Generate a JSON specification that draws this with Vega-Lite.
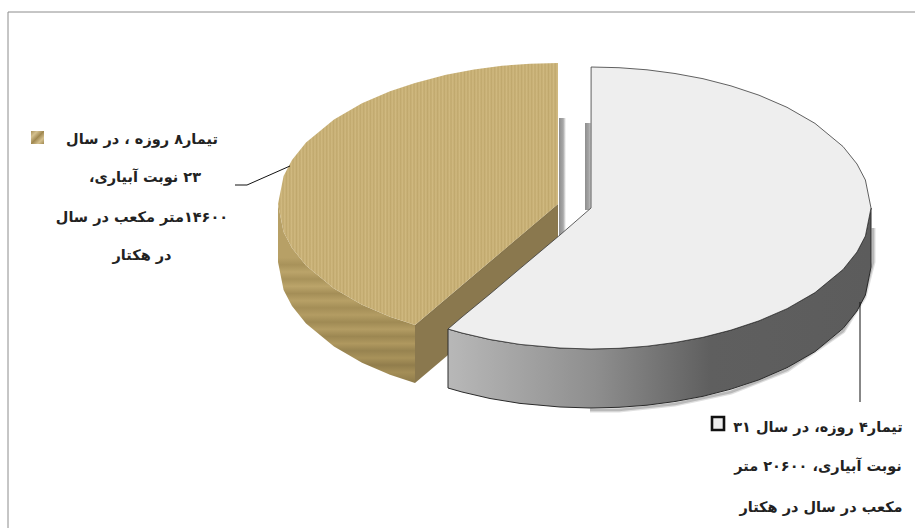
{
"$schema":"https://vega.github.io/schema/vega-lite/v6.json",
"width":915,"height":528,"padding":0,
"autosize":{"type":"fit","contains":"padding"},
"background":"white",
"config":{"view":{"stroke":null}},
"datasets":{
"frame":[{"x":8,"y":528},{"x":8,"y":12},{"x":915,"y":12}],
"shadows":[{"x":559,"x2":566,"y":118,"y2":266},{"x":585,"x2":592,"y":123,"y2":210}],
"brownWall":[{"x":278,"y":204,"y2":262},{"x":283.6,"y":232,"y2":290},{"x":292,"y":248,"y2":306},{"x":306,"y":265.5,"y2":323.5},{"x":334,"y":288.6,"y2":346.6},{"x":362,"y":304.7,"y2":362.7},{"x":390,"y":316.8,"y2":374.8},{"x":415,"y":325,"y2":383}],
"cutWall":[{"x":415,"y":325,"y2":383},{"x":558,"y":204,"y2":262}],
"brownTop":[{"x":278,"y":204,"y2":204},{"x":283.6,"y":176,"y2":232},{"x":292,"y":160,"y2":248},{"x":306,"y":142.5,"y2":265.5},{"x":334,"y":119.4,"y2":288.6},{"x":362,"y":103.3,"y2":304.7},{"x":390,"y":91.2,"y2":316.8},{"x":415,"y":83,"y2":325},{"x":446,"y":74.7,"y2":298.8},{"x":474,"y":69.5,"y2":275},{"x":502,"y":65.8,"y2":251.4},{"x":530,"y":63.7,"y2":227.7},{"x":558,"y":63,"y2":204}],
"wallShadow":[{"x":590,"y":410},{"x":619,"y":410},{"x":675,"y":404},{"x":731,"y":392},{"x":787,"y":370},{"x":843,"y":331},{"x":864,"y":297},{"x":873,"y":262},{"x":873,"y":228}],
"lightWall":[{"x":448,"y":329,"y2":388},{"x":462,"y":333,"y2":392},{"x":490,"y":339.5,"y2":398.5},{"x":520,"y":344.4,"y2":403.4},{"x":560,"y":348,"y2":407},{"x":591,"y":349,"y2":408},{"x":619,"y":348.3,"y2":407.3},{"x":647,"y":346.2,"y2":405.2},{"x":675,"y":342.5,"y2":401.5},{"x":703,"y":337.3,"y2":396.3},{"x":731,"y":330.1,"y2":389.1},{"x":759,"y":320.8,"y2":379.8},{"x":787,"y":308.7,"y2":367.7},{"x":815,"y":292.6,"y2":351.6},{"x":843,"y":269.5,"y2":328.5},{"x":857,"y":252,"y2":311},{"x":865.4,"y":236,"y2":295},{"x":871,"y":208,"y2":267}],
"lightTop":[{"x":448,"y":329,"y2":329},{"x":462,"y":317,"y2":333},{"x":490,"y":294,"y2":339.5},{"x":520,"y":268.6,"y2":344.4},{"x":560,"y":235,"y2":348},{"x":591,"y":208,"y2":349},{"x":591.1,"y":67,"y2":349},{"x":619,"y":67.7,"y2":348.3},{"x":647,"y":69.8,"y2":346.2},{"x":675,"y":73.5,"y2":342.5},{"x":703,"y":78.7,"y2":337.3},{"x":731,"y":85.9,"y2":330.1},{"x":759,"y":95.2,"y2":320.8},{"x":787,"y":107.3,"y2":308.7},{"x":815,"y":123.4,"y2":292.6},{"x":843,"y":146.5,"y2":269.5},{"x":857,"y":164,"y2":252},{"x":865.4,"y":180,"y2":236},{"x":871,"y":208,"y2":208}],
"leaders":[{"id":"a","o":1,"x":235,"y":185},{"id":"a","o":2,"x":247,"y":185},{"id":"a","o":3,"x":290,"y":166},{"id":"b","o":1,"x":860,"y":302},{"id":"b","o":2,"x":860,"y":402}],
"keyBrown":[{"x":31,"x2":44,"y":131,"y2":144}],
"keyLight":[{"x":712,"x2":724,"y":417,"y2":430}],
"labels":[
{"t":"\u200fتیمار۸ روزه ، در سال\u200f","x":142,"y":140},
{"t":"\u200f۲۳ نوبت آبیاری،\u200f","x":145,"y":178},
{"t":"\u200f۱۴۶۰۰متر مکعب در سال\u200f","x":142,"y":218},
{"t":"\u200fدر هکتار\u200f","x":142,"y":256},
{"t":"\u200fتیمار۴ روزه، در سال ۳۱\u200f","x":818,"y":428},
{"t":"\u200fنوبت آبیاری، ۲۰۶۰۰ متر\u200f","x":818,"y":467},
{"t":"\u200fمکعب در سال در هکتار\u200f","x":821,"y":508}]
},
"encoding":{
"x":{"field":"x","type":"quantitative","scale":{"domain":[0,915],"nice":false,"zero":false},"axis":null},
"y":{"field":"y","type":"quantitative","scale":{"domain":[528,0],"nice":false,"zero":false},"axis":null}
},
"layer":[
{"data":{"name":"frame"},"mark":{"type":"line","stroke":"#8c8c8c","strokeWidth":1,"clip":true},"encoding":{"order":{"field":"y","sort":"descending"}}},
{"data":{"name":"shadows"},"mark":{"type":"rect","fill":{"gradient":"linear","x1":0,"x2":1,"y1":0,"y2":0,"stops":[{"offset":0,"color":"#8e8e8e"},{"offset":0.6,"color":"#a8a8a8"},{"offset":1,"color":"#ffffff"}]}},"encoding":{"x2":{"field":"x2"},"y2":{"field":"y2"}}},
{"data":{"name":"brownWall"},"mark":{"type":"area","orient":"vertical","fill":{"gradient":"linear","x1":0,"x2":0,"y1":0,"y2":1,"stops":[{"offset":0,"color":"#b7a066"},{"offset":0.3,"color":"#b7a066"},{"offset":0.34,"color":"#a8925a"},{"offset":0.38,"color":"#bba46a"},{"offset":0.42,"color":"#a8925a"},{"offset":0.46,"color":"#bba46a"},{"offset":0.5,"color":"#a48e57"},{"offset":0.54,"color":"#b7a066"},{"offset":0.58,"color":"#a48e57"},{"offset":0.62,"color":"#b39c63"},{"offset":0.66,"color":"#9f8a54"},{"offset":0.7,"color":"#b39c63"},{"offset":0.74,"color":"#9c8752"},{"offset":0.78,"color":"#af985f"},{"offset":0.82,"color":"#978350"},{"offset":0.86,"color":"#a8925a"},{"offset":0.9,"color":"#917d4c"},{"offset":0.94,"color":"#a48e57"},{"offset":1,"color":"#8d7a4a"}]}},"encoding":{"y2":{"field":"y2"}}},
{"data":{"name":"cutWall"},"mark":{"type":"area","orient":"vertical","fill":{"gradient":"linear","x1":0,"y1":0,"x2":0.464,"y2":0.686,"stops":[{"offset":0.46,"color":"#6f5f3a"},{"offset":0.49,"color":"#85734a"},{"offset":0.52,"color":"#6f5f3a"},{"offset":0.55,"color":"#8a784e"},{"offset":0.58,"color":"#6f5f3a"},{"offset":0.61,"color":"#8a784e"},{"offset":0.64,"color":"#74643e"},{"offset":0.69,"color":"#8a784e"}]}},"encoding":{"y2":{"field":"y2"}}},
{"data":{"name":"brownTop"},"mark":{"type":"area","orient":"vertical","fill":{"gradient":"linear","x1":0,"x2":1,"y1":0,"y2":0,"stops":[{"offset":0,"color":"#d0b980"},{"offset":0.006,"color":"#c0a86d"},{"offset":0.012,"color":"#d0b980"},{"offset":0.018,"color":"#c0a86d"},{"offset":0.024,"color":"#d0b980"},{"offset":0.03,"color":"#c0a86d"},{"offset":0.036,"color":"#d0b980"},{"offset":0.042,"color":"#c0a86d"},{"offset":0.048,"color":"#d0b980"},{"offset":0.054,"color":"#c0a86d"},{"offset":0.06,"color":"#d0b980"},{"offset":0.066,"color":"#c0a86d"},{"offset":0.072,"color":"#d0b980"},{"offset":0.078,"color":"#c0a86d"},{"offset":0.084,"color":"#d0b980"},{"offset":0.09,"color":"#c0a86d"},{"offset":0.096,"color":"#d0b980"},{"offset":0.102,"color":"#c0a86d"},{"offset":0.108,"color":"#d0b980"},{"offset":0.114,"color":"#c0a86d"},{"offset":0.12,"color":"#d0b980"},{"offset":0.126,"color":"#c0a86d"},{"offset":0.132,"color":"#d0b980"},{"offset":0.138,"color":"#c0a86d"},{"offset":0.144,"color":"#d0b980"},{"offset":0.15,"color":"#c0a86d"},{"offset":0.156,"color":"#d0b980"},{"offset":0.162,"color":"#c0a86d"},{"offset":0.168,"color":"#d0b980"},{"offset":0.174,"color":"#c0a86d"},{"offset":0.18,"color":"#d0b980"},{"offset":0.186,"color":"#c0a86d"},{"offset":0.192,"color":"#d0b980"},{"offset":0.198,"color":"#c0a86d"},{"offset":0.204,"color":"#d0b980"},{"offset":0.21,"color":"#c0a86d"},{"offset":0.216,"color":"#d0b980"},{"offset":0.222,"color":"#c0a86d"},{"offset":0.228,"color":"#d0b980"},{"offset":0.234,"color":"#c0a86d"},{"offset":0.24,"color":"#d0b980"},{"offset":0.246,"color":"#c0a86d"},{"offset":0.252,"color":"#d0b980"},{"offset":0.258,"color":"#c0a86d"},{"offset":0.264,"color":"#d0b980"},{"offset":0.27,"color":"#c0a86d"},{"offset":0.276,"color":"#d0b980"},{"offset":0.282,"color":"#c0a86d"},{"offset":0.288,"color":"#d0b980"},{"offset":0.294,"color":"#c0a86d"},{"offset":0.3,"color":"#d0b980"},{"offset":0.306,"color":"#c0a86d"},{"offset":0.312,"color":"#d0b980"},{"offset":0.318,"color":"#c0a86d"},{"offset":0.324,"color":"#d0b980"},{"offset":0.33,"color":"#c0a86d"},{"offset":0.336,"color":"#d0b980"},{"offset":0.342,"color":"#c0a86d"},{"offset":0.348,"color":"#d0b980"},{"offset":0.354,"color":"#c0a86d"},{"offset":0.36,"color":"#d0b980"},{"offset":0.366,"color":"#c0a86d"},{"offset":0.372,"color":"#d0b980"},{"offset":0.378,"color":"#c0a86d"},{"offset":0.384,"color":"#d0b980"},{"offset":0.39,"color":"#c0a86d"},{"offset":0.396,"color":"#d0b980"},{"offset":0.402,"color":"#c0a86d"},{"offset":0.408,"color":"#d0b980"},{"offset":0.414,"color":"#c0a86d"},{"offset":0.42,"color":"#d0b980"},{"offset":0.426,"color":"#c0a86d"},{"offset":0.432,"color":"#d0b980"},{"offset":0.438,"color":"#c0a86d"},{"offset":0.444,"color":"#d0b980"},{"offset":0.45,"color":"#c0a86d"},{"offset":0.456,"color":"#d0b980"},{"offset":0.462,"color":"#c0a86d"},{"offset":0.468,"color":"#d0b980"},{"offset":0.474,"color":"#c0a86d"},{"offset":0.48,"color":"#d0b980"},{"offset":0.486,"color":"#c0a86d"},{"offset":0.492,"color":"#d0b980"},{"offset":0.498,"color":"#c0a86d"},{"offset":0.504,"color":"#d0b980"},{"offset":0.51,"color":"#c0a86d"},{"offset":0.516,"color":"#d0b980"},{"offset":0.522,"color":"#c0a86d"},{"offset":0.528,"color":"#d0b980"},{"offset":0.534,"color":"#c0a86d"},{"offset":0.54,"color":"#d0b980"},{"offset":0.546,"color":"#c0a86d"},{"offset":0.552,"color":"#d0b980"},{"offset":0.558,"color":"#c0a86d"},{"offset":0.564,"color":"#d0b980"},{"offset":0.57,"color":"#c0a86d"},{"offset":0.576,"color":"#d0b980"},{"offset":0.582,"color":"#c0a86d"},{"offset":0.588,"color":"#d0b980"},{"offset":0.594,"color":"#c0a86d"},{"offset":0.6,"color":"#d0b980"},{"offset":0.606,"color":"#c0a86d"},{"offset":0.612,"color":"#d0b980"},{"offset":0.618,"color":"#c0a86d"},{"offset":0.624,"color":"#d0b980"},{"offset":0.63,"color":"#c0a86d"},{"offset":0.636,"color":"#d0b980"},{"offset":0.642,"color":"#c0a86d"},{"offset":0.648,"color":"#d0b980"},{"offset":0.654,"color":"#c0a86d"},{"offset":0.66,"color":"#d0b980"},{"offset":0.666,"color":"#c0a86d"},{"offset":0.672,"color":"#d0b980"},{"offset":0.678,"color":"#c0a86d"},{"offset":0.684,"color":"#d0b980"},{"offset":0.69,"color":"#c0a86d"},{"offset":0.696,"color":"#d0b980"},{"offset":0.702,"color":"#c0a86d"},{"offset":0.708,"color":"#d0b980"},{"offset":0.714,"color":"#c0a86d"},{"offset":0.72,"color":"#d0b980"},{"offset":0.726,"color":"#c0a86d"},{"offset":0.732,"color":"#d0b980"},{"offset":0.738,"color":"#c0a86d"},{"offset":0.744,"color":"#d0b980"},{"offset":0.75,"color":"#c0a86d"},{"offset":0.756,"color":"#d0b980"},{"offset":0.762,"color":"#c0a86d"},{"offset":0.768,"color":"#d0b980"},{"offset":0.774,"color":"#c0a86d"},{"offset":0.78,"color":"#d0b980"},{"offset":0.786,"color":"#c0a86d"},{"offset":0.792,"color":"#d0b980"},{"offset":0.798,"color":"#c0a86d"},{"offset":0.804,"color":"#d0b980"},{"offset":0.81,"color":"#c0a86d"},{"offset":0.816,"color":"#d0b980"},{"offset":0.822,"color":"#c0a86d"},{"offset":0.828,"color":"#d0b980"},{"offset":0.834,"color":"#c0a86d"},{"offset":0.84,"color":"#d0b980"},{"offset":0.846,"color":"#c0a86d"},{"offset":0.852,"color":"#d0b980"},{"offset":0.858,"color":"#c0a86d"},{"offset":0.864,"color":"#d0b980"},{"offset":0.87,"color":"#c0a86d"},{"offset":0.876,"color":"#d0b980"},{"offset":0.882,"color":"#c0a86d"},{"offset":0.888,"color":"#d0b980"},{"offset":0.894,"color":"#c0a86d"},{"offset":0.9,"color":"#d0b980"},{"offset":0.906,"color":"#c0a86d"},{"offset":0.912,"color":"#d0b980"},{"offset":0.918,"color":"#c0a86d"},{"offset":0.924,"color":"#d0b980"},{"offset":0.93,"color":"#c0a86d"},{"offset":0.936,"color":"#d0b980"},{"offset":0.942,"color":"#c0a86d"},{"offset":0.948,"color":"#d0b980"},{"offset":0.954,"color":"#c0a86d"},{"offset":0.96,"color":"#d0b980"},{"offset":0.966,"color":"#c0a86d"},{"offset":0.972,"color":"#d0b980"},{"offset":0.978,"color":"#c0a86d"},{"offset":0.984,"color":"#d0b980"},{"offset":0.99,"color":"#c0a86d"},{"offset":0.996,"color":"#d0b980"}]}},"encoding":{"y2":{"field":"y2"}}},
{"data":{"name":"wallShadow"},"mark":{"type":"line","stroke":"#555555","strokeWidth":5,"opacity":0.18},"encoding":{}},
{"data":{"name":"wallShadow"},"mark":{"type":"line","stroke":"#444444","strokeWidth":2.5,"opacity":0.25},"encoding":{}},
{"data":{"name":"lightWall"},"mark":{"type":"area","orient":"vertical","stroke":"#2a2a2a","strokeWidth":1,"fill":{"gradient":"linear","x1":0,"x2":1,"y1":0,"y2":0,"stops":[{"offset":0,"color":"#b8b8b8"},{"offset":0.35,"color":"#8e8e8e"},{"offset":0.62,"color":"#5f5f5f"},{"offset":1,"color":"#5c5c5c"}]}},"encoding":{"y2":{"field":"y2"}}},
{"data":{"name":"lightTop"},"mark":{"type":"area","orient":"vertical","fill":"#eeeeee","stroke":"#3a3a3a","strokeWidth":0.8},"encoding":{"y2":{"field":"y2"}}},
{"data":{"name":"leaders"},"mark":{"type":"line","stroke":"#111111","strokeWidth":1},"encoding":{"detail":{"field":"id"},"order":{"field":"o"}}},
{"data":{"name":"keyBrown"},"mark":{"type":"rect","fill":{"gradient":"linear","x1":0,"x2":1,"y1":0,"y2":1,"stops":[{"offset":0,"color":"#a8915a"},{"offset":0.25,"color":"#d4c08e"},{"offset":0.5,"color":"#a08850"},{"offset":0.75,"color":"#d4c08e"},{"offset":1,"color":"#a08850"}]}},"encoding":{"x2":{"field":"x2"},"y2":{"field":"y2"}}},
{"data":{"name":"keyLight"},"mark":{"type":"rect","fill":"#eeeeee","stroke":"#111111","strokeWidth":2.6},"encoding":{"x2":{"field":"x2"},"y2":{"field":"y2"}}},
{"data":{"name":"labels"},"mark":{"type":"text","font":"DejaVu Sans","fontSize":14.5,"fontWeight":"bold","color":"#222222","align":"center","baseline":"middle"},"encoding":{"text":{"field":"t"}}}
]
}
